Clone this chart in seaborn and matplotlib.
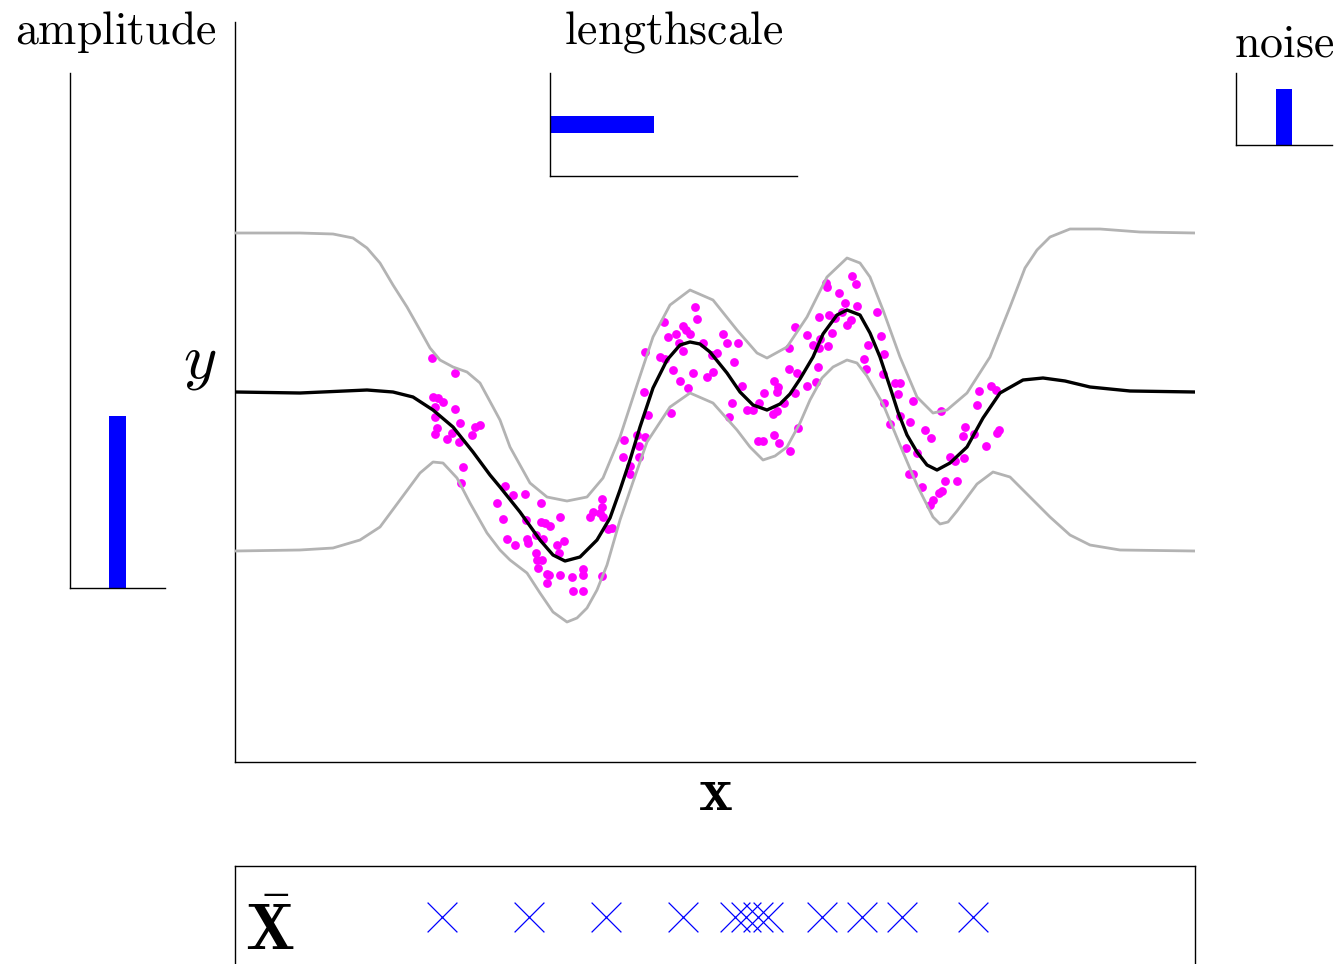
import numpy as np
import pandas as pd
import matplotlib
matplotlib.use("Agg")
import matplotlib.pyplot as plt
import seaborn as sns

# ---------------- data (arbitrary units: x in [0, 960], y in [-370, 370]) -------------
mean_x = [0, 65, 132, 158, 178, 198, 218, 238, 255, 265, 285, 305, 318, 330, 345, 362,
          375, 385, 395, 405, 418, 432, 445, 455, 465, 475, 492, 505, 518, 532, 545, 555,
          565, 578, 588, 602, 612, 625, 635, 645, 655, 663, 672, 682, 692, 702, 715, 732,
          748, 765, 788, 808, 830, 855, 895, 960]
mean_y = [0, -1, 2, 0, -5, -18, -35, -60, -83, -95, -120, -148, -163, -169, -165, -148,
          -126, -98, -68, -35, 4, 32, 47, 50, 48, 40, 19, 0, -13, -18, -12, -2,
          13, 35, 58, 77, 82, 77, 59, 35, 5, -20, -43, -60, -73, -78, -71, -55,
          -26, -1, 12, 14, 11, 5, 1, 0]

upper_x = [0, 65, 98, 118, 132, 145, 158, 172, 185, 195, 205, 218, 232, 245, 258, 265,
           275, 295, 312, 332, 352, 368, 385, 402, 418, 435, 455, 478, 502, 522, 532, 552,
           572, 592, 612, 625, 635, 648, 665, 682, 698, 712, 732, 755, 775, 790, 802, 815,
           835, 865, 905, 960]
upper_y = [159, 159, 158, 154, 144, 129, 107, 85, 62, 44, 32, 25, 20, 9, -15, -28,
           -55, -91, -105, -109, -105, -86, -45, 7, 55, 87, 102, 92, 62, 39, 34, 45,
           75, 115, 134, 129, 115, 82, 35, -5, -21, -18, -1, 35, 85, 124, 142, 155,
           163, 163, 160, 159]

lower_x = [0, 65, 98, 125, 145, 165, 185, 198, 208, 222, 235, 252, 265, 275, 292, 305,
           318, 332, 342, 352, 362, 372, 385, 398, 412, 435, 455, 478, 502, 515, 528, 540,
           552, 565, 575, 587, 598, 612, 622, 632, 648, 665, 682, 698, 705, 713, 722, 742,
           758, 775, 795, 815, 835, 855, 885, 960]
lower_y = [-159, -158, -156, -148, -135, -108, -81, -70, -71, -86, -111, -141, -158, -168, -181, -201,
           -220, -230, -226, -216, -198, -173, -128, -90, -50, -15, -1, -11, -38, -55, -68, -64,
           -55, -31, -8, 14, 25, 32, 29, 16, -12, -53, -93, -125, -132, -130, -119, -92,
           -80, -85, -105, -125, -143, -153, -158, -159]

obs_x = [197, 220, 198, 203, 208, 200, 220, 200, 225, 202, 240, 245, 200, 212, 217, 224,
         237, 228, 226, 270, 278, 290, 262, 306, 268, 291, 306, 310, 315, 325, 272, 280,
         292, 293, 301, 308, 322, 329, 301, 324, 302, 307, 303, 312, 314, 312, 325, 337,
         348, 348, 338, 348, 367, 355, 358, 365, 367, 367, 368, 373, 377, 395, 395,
         460, 462, 429, 448, 451, 441, 455, 433, 444, 448, 468, 488, 492, 503, 410, 425,
         430, 477, 482, 499, 438, 458, 472, 478, 445, 453, 507, 409, 497, 512, 518, 524,
         529, 539, 543, 542, 538, 542, 494, 436, 413, 539, 544, 523, 528, 389, 410, 404,
         402, 388, 404,
         617, 621, 591, 592, 604, 610, 622, 607, 594, 584, 642, 600, 616, 612, 560, 572,
         597, 646, 585, 578, 584, 593, 554, 633, 649, 629, 631, 583, 554, 562, 581, 572,
         560, 549, 563, 555,
         648, 660, 665, 663, 649, 678, 744, 756, 761, 742, 706, 665, 675, 655, 690, 730,
         728, 739, 764, 762, 696, 751, 671, 682, 715, 720, 729, 674, 678, 710, 722, 687,
         704, 707, 698, 695]
obs_y = [34, 19, -5, -6, -10, -15, -17, -25, -31, -36, -35, -33, -42, -47, -41, -50,
         -43, -75, -91, -94, -103, -102, -111, -111, -127, -128, -130, -131, -134, -125, -147, -153,
         -147, -151, -143, -147, -153, -149, -161, -161, -168, -168, -176, -182, -183, -191, -183, -185,
         -177, -183, -199, -199, -184, -125, -120, -121, -107, -115, -125, -137, -136, -74, -82,
         85, 73, 70, 66, 62, 58, 58, 55, 49, 41, 49, 58, 49, 49, 40, 35,
         33, 37, 39, 30, 22, 19, 15, 20, 11, 4, 6, 0, -11, -18, -18, -11,
         -1, 11, 5, 0, -22, -19, -25, -21, -23, -43, -51, -49, -49, -48, -45, -54,
         -43, -65, -65,
         116, 108, 109, 105, 99, 89, 86, 80, 77, 75, 80, 74, 72, 67, 65, 57,
         59, 56, 53, 47, 44, 46, 44, 47, 38, 33, 23, 25, 23, 19, 10, 6,
         -1, -11, -36, -59,
         18, 9, 9, -2, -11, -9, 1, 6, 2, -13, -19, -24, -30, -32, -38, -35,
         -44, -42, -38, -41, -46, -54, -56, -61, -65, -69, -66, -82, -82, -89, -89, -95,
         -101, -99, -108, -113]

inducing_x = [207, 294, 371, 448, 500, 511, 523, 533, 587, 627, 667, 738]

amplitude_val = [1.0]
lengthscale_val = [1.0]
noise_val = [0.1]

# ---------------- style -------------
sns.set_theme(style="white")
plt.rcParams["mathtext.fontset"] = "cm"
plt.rcParams["font.family"] = ["DejaVu Serif", "DejaVu Sans"]
plt.rcParams["text.color"] = "black"

W, H = 1341, 964
fig = plt.figure(figsize=(W / 100, H / 100), dpi=100, facecolor="white")

def frac(left, top, right, bottom):
    return [left / W, (H - bottom) / H, (right - left) / W, (bottom - top) / H]

BLUE = "#0000ff"
GREY = "#b3b3b3"
MAG = "#ff00ff"
TITLE_FS = 33

def clean(a, spines=("left", "bottom")):
    for s in ["left", "right", "top", "bottom"]:
        a.spines[s].set_visible(s in spines)
        a.spines[s].set_color("black")
        a.spines[s].set_linewidth(1.0)
    a.set_xticks([])
    a.set_yticks([])
    a.set_xlabel("")
    a.set_ylabel("")

# ---------------- main axes -------------
ax = fig.add_axes(frac(235, 22, 1195, 762))
sns.scatterplot(x=obs_x, y=obs_y, color=MAG, s=40, linewidth=0, ax=ax, zorder=2)
line_kw = dict(estimator=None, solid_joinstyle="round", solid_capstyle="round")
sns.lineplot(x=upper_x, y=upper_y, color=GREY, linewidth=2.0, ax=ax, zorder=3, **line_kw)
sns.lineplot(x=lower_x, y=lower_y, color=GREY, linewidth=2.0, ax=ax, zorder=3, **line_kw)
sns.lineplot(x=mean_x, y=mean_y, color="black", linewidth=2.4, ax=ax, zorder=4, **line_kw)
ax.set_xlim(0, 960)
ax.set_ylim(-370, 370)
clean(ax)
ax.text(-0.019, 0.519, r"$y$", transform=ax.transAxes, fontsize=46, color="black",
        ha="right", va="baseline")
ax.text(0.5, -0.065, r"$\mathbf{x}$", transform=ax.transAxes, fontsize=46, color="black",
        ha="center", va="baseline")

# ---------------- inducing inputs -------------
axb = fig.add_axes(frac(235, 866, 1195, 968))
sns.scatterplot(x=inducing_x, y=np.zeros(len(inducing_x)), marker="x", color=BLUE,
                s=460, linewidth=0.9, ax=axb)
axb.set_xlim(0, 960)
axb.set_ylim(-1, 1)
clean(axb, spines=("left", "right", "top", "bottom"))
axb.text(0.0104, 0.176, r"$\bar{\mathbf{X}}$", transform=axb.transAxes, fontsize=47,
         color="black", ha="left", va="baseline")

# ---------------- amplitude inset -------------
axa = fig.add_axes(frac(70, 73, 165, 588))
sns.barplot(x=["a"], y=amplitude_val, color=BLUE, saturation=1, width=0.18,
            linewidth=0, ax=axa)
axa.set_xlim(-0.5, 0.5)
axa.set_ylim(0, 3.0)
clean(axa)
axa.set_title(r"$\mathrm{amplitude}$", fontsize=TITLE_FS, pad=21, color="black", x=0.48)

# ---------------- lengthscale inset -------------
axl = fig.add_axes(frac(550, 73, 797, 176))
sns.barplot(x=lengthscale_val, y=["l"], orient="h", color=BLUE, saturation=1,
            width=0.165, linewidth=0, ax=axl)
axl.set_xlim(0, 2.375)
axl.set_ylim(-0.5, 0.5)
clean(axl)
axl.set_title(r"$\mathrm{lengthscale}$", fontsize=TITLE_FS, pad=21, color="black")

# ---------------- noise inset -------------
axn = fig.add_axes(frac(1236, 73, 1332, 145))
sns.barplot(x=["n"], y=noise_val, color=BLUE, saturation=1, width=0.177,
            linewidth=0, ax=axn)
axn.set_xlim(-0.5, 0.5)
axn.set_ylim(0, 0.128)
clean(axn)
axn.set_title(r"$\mathrm{noise}$", fontsize=TITLE_FS, pad=12, color="black")

fig.savefig("out.png", dpi=100, facecolor="white")
